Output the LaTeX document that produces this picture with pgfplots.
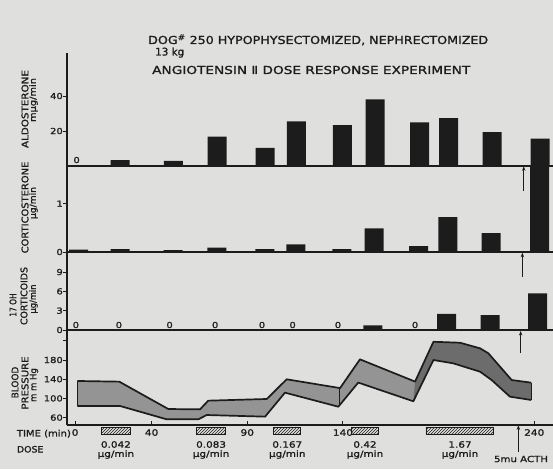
\documentclass[border=0pt]{standalone}
\usepackage{fontspec}
\setmainfont{DejaVu Sans}[FakeStretch=1.2, FakeBold=1.3]
\usepackage{pgfplots}
\pgfplotsset{compat=1.18}
\usetikzlibrary{patterns,arrows.meta}
\definecolor{paper}{RGB}{223,223,221}
\definecolor{ink}{RGB}{28,28,28}
\definecolor{bandlt}{RGB}{148,148,148}
\definecolor{banddk}{RGB}{108,108,108}
\newcommand{\fw}[2]{\resizebox{#1}{\height}{#2}}
\newcommand{\lf}[1]{\fontsize{#1}{#1}\selectfont}
\tikzset{arr/.style={-{Stealth[length=4.5pt,width=3.4pt]}, draw=ink, line width=0.9pt}}
\pgfplotsset{
  panel/.style={
    scale only axis, width=486pt,
    xmin=-4.23, xmax=249.8,
    axis x line=bottom, axis y line=left,
    axis line style={-, draw=ink, line width=1.1pt},
    xtick=\empty,
    tick align=outside, major tick length=4pt,
    every tick/.style={draw=ink, line width=1pt},
    ticklabel style={font=\lf{8.3}, text=ink, inner sep=0pt},
    /pgf/number format/assume math mode=true,
    clip=false,
  },
  bars/.style={ybar, bar width=19pt, fill=ink, draw=none},
}

\begin{document}
\begin{tikzpicture}
\fill[paper] (0pt,0pt) rectangle (553pt,469pt);
\useasboundingbox (0pt,0pt) rectangle (553pt,469pt);

% ---------- Aldosterone ----------
\begin{axis}[panel, anchor=south west, at={(67pt,303pt)}, height=113pt, ymin=0, ymax=64.6,
  ytick={20,40}, yticklabels={20,40}]
\addplot[bars] coordinates {(23.6,3.4) (51.4,3.0) (74.3,16.8) (99.3,10.3) (115.6,25.5) (139.7,23.4) (156.8,38.1) (180.1,25.0) (195.3,27.4) (218.0,19.4) (243.1,15.6)};
\node[anchor=south, inner sep=0pt, font=\lf{8.3}, text=ink] at (axis cs:0.8,1.5) {0};
\end{axis}

% ---------- Corticosterone ----------
\begin{axis}[panel, anchor=south west, at={(67pt,217pt)}, height=86pt, ymin=0, ymax=1.781,
  ytick={0,1}, yticklabels={0,1}]
\addplot[bars] coordinates {(1.9,0.047) (23.6,0.06) (51.3,0.04) (74.1,0.09) (99.2,0.06) (115.4,0.16) (139.4,0.06) (156.3,0.49) (179.5,0.12) (194.9,0.72) (217.5,0.39) (242.8,1.76)};
\draw[arr] (axis cs:234.5,1.26) -- (axis cs:234.5,1.775);
\end{axis}

% ---------- 17 OH corticoids ----------
\begin{axis}[panel, anchor=south west, at={(67pt,139pt)}, height=78pt, ymin=0, ymax=12.11,
  ytick={0,3,6,9}, yticklabels={0,3,6,9}]
\addplot[bars] coordinates {(155.6,0.73) (194.2,2.5) (216.9,2.3) (241.8,5.7)};
\foreach \t in {0.4,22.9,49.4,73.2,97.7,113.7,137.4,177.7}{
  \edef\tmp{\noexpand\node[anchor=south, inner sep=0pt, font=\noexpand\lf{8.3}, text=ink] at (axis cs:\t,0.26) {0};}\tmp}
\draw[arr] (axis cs:233.8,8.3) -- (axis cs:233.8,12.0);
\end{axis}

% ---------- Blood pressure ----------
\begin{axis}[panel, anchor=south west, at={(67pt,44pt)}, height=95pt, ymin=44.6, ymax=242.5,
  ytick={60,100,140,180,220}, yticklabels={60,100,140,180,{}},
  xtick={0,40,90,140,240}, xticklabels={0,40,90,140,240},
  x tick style={yshift=4pt},
  xticklabel style={font=\lf{8.8}}]
\addplot[fill=bandlt, draw=none] coordinates {
 (1.2,136.3) (23.1,134.9) (48.7,77.9) (65.3,77.2) (69.6,95.3) (100.2,98.8) (110.6,139.8) (138.5,121.5) (148.9,181.4) (177.7,135) (187.3,218) (201.2,216) (211.7,204.3) (216,194) (228.2,138.3) (238.4,132.8)
 (238.4,96.7) (227.3,103.6) (217.8,138) (211.7,155.6) (197.7,173) (187.3,180) (176.8,94) (148,133) (137.6,82.7) (109.7,112) (99.3,62) (68.8,65.4) (64.4,56.4) (47.9,56.4) (23.5,84.2) (1.2,84.2)} -- cycle;
\addplot[fill=banddk, draw=none] coordinates {
 (177.7,135) (187.3,218) (201.2,216) (211.7,204.3) (216,194) (228.2,138.3) (238.4,132.8)
 (238.4,96.7) (227.3,103.6) (217.8,138) (211.7,155.6) (197.7,173) (187.3,180) (176.8,94)} -- cycle;
\addplot[draw=ink, line width=1.7pt, line join=round] coordinates {
 (1.2,136.3) (23.1,134.9) (48.7,77.9) (65.3,77.2) (69.6,95.3) (100.2,98.8) (110.6,139.8) (138.5,121.5) (148.9,181.4) (177.7,135) (187.3,218) (201.2,216) (211.7,204.3) (216,194) (228.2,138.3) (238.4,132.8)};
\addplot[draw=ink, line width=1.7pt, line join=round] coordinates {
 (1.2,84.2) (23.5,84.2) (47.9,56.4) (64.4,56.4) (68.8,65.4) (99.3,62) (109.7,112) (137.6,82.7) (148,133) (176.8,94) (187.3,180) (197.7,173) (211.7,155.6) (217.8,138) (227.3,103.6) (238.4,96.7)};
\addplot[draw=ink, line width=0.7pt] coordinates {(1.2,84.2) (1.2,136.3)};
\addplot[draw=ink, line width=0.7pt] coordinates {(238.4,96.7) (238.4,132.8)};
\addplot[draw=ink, line width=0.6pt] coordinates {(138.3,86) (138.3,121.5)};
% dose boxes
\foreach \a/\b in {13.9/28.7, 63.6/78.7, 103.8/118, 144.6/158.5, 183.4/218.9}{
  \edef\tmp{\noexpand\draw[pattern=north east lines, pattern color=ink, draw=ink, line width=0.8pt] (axis cs:\a,24) rectangle (axis cs:\b,40.4);}\tmp}
\draw[arr] (axis cs:232.9,194) -- (axis cs:232.9,240.5);
\draw[arr] (axis cs:231.7,-12) -- (axis cs:231.7,44);
\end{axis}

% ---------- texts ----------
\begin{scope}[text=ink]
\node[anchor=base west, inner sep=0pt] at (148pt,425pt) {\fw{340pt}{\lf{11}DOG\textsuperscript{\#} 250 HYPOPHYSECTOMIZED, NEPHRECTOMIZED}};
\node[anchor=base west, inner sep=0pt] at (155pt,413.5pt) {\fw{29pt}{\lf{10.5}13 kg}};
\node[anchor=base west, inner sep=0pt] at (152pt,395pt) {\fw{318pt}{\lf{11}ANGIOTENSIN Ⅱ DOSE RESPONSE EXPERIMENT}};

\node[rotate=90, inner sep=0pt] at (25pt,360pt) {\fw{78pt}{\lf{9.3}ALDOSTERONE}};
\node[rotate=90, inner sep=0pt] at (33.5pt,369pt) {\fw{44pt}{\lf{8.7}mµg/min}};
\node[rotate=90, inner sep=0pt] at (25pt,261.5pt) {\fw{91.7pt}{\lf{9.3}CORTICOSTERONE}};
\node[rotate=90, inner sep=0pt] at (33.5pt,266pt) {\fw{32pt}{\lf{8.7}µg/min}};
\node[rotate=90, inner sep=0pt] at (13pt,164pt) {\fw{23.4pt}{\lf{9.3}17 OH}};
\node[rotate=90, inner sep=0pt] at (24pt,173pt) {\fw{58pt}{\lf{9.3}CORTICOIDS}};
\node[rotate=90, inner sep=0pt] at (33.5pt,170pt) {\fw{29pt}{\lf{8.7}µg/min}};
\node[rotate=90, inner sep=0pt] at (15pt,86.5pt) {\fw{31.6pt}{\lf{9.3}BLOOD}};
\node[rotate=90, inner sep=0pt] at (25pt,86pt) {\fw{53pt}{\lf{9.3}PRESSURE}};
\node[rotate=90, inner sep=0pt] at (34pt,84pt) {\fw{33.7pt}{\lf{8.7}m m Hg}};

\node[anchor=west, inner sep=0pt] at (16.7pt,35.3pt) {\fw{54pt}{\lf{8.8}TIME (min)}};
\node[anchor=west, inner sep=0pt] at (16.7pt,19.7pt) {\fw{26.6pt}{\lf{8.8}DOSE}};

\foreach \x/\d in {115.9/0.042, 211.1/0.083, 287.3/0.167, 365/0.42, 460/1.67}{
  \node[inner sep=0pt, font=\lf{8.7}] at (\x pt,24.5pt) {\d};
  \node[inner sep=0pt, font=\lf{8.7}] at (\x pt,14.5pt) {µg/min};
}
\node[inner sep=0pt, font=\lf{8.5}] at (521pt,10pt) {5mu ACTH};
\end{scope}
\end{tikzpicture}
\end{document}
